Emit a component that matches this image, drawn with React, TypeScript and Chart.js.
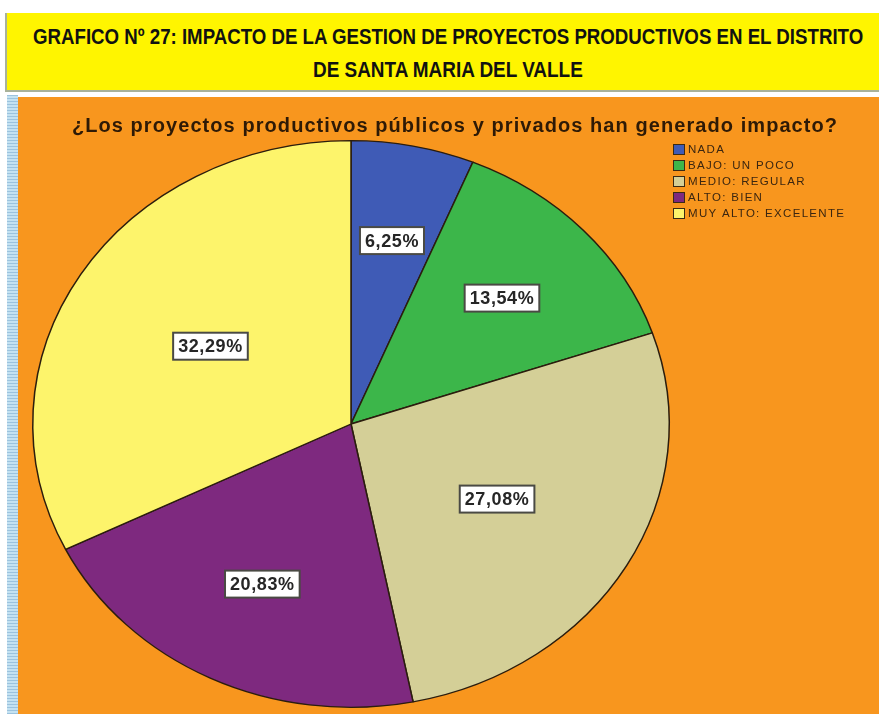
import React, { useEffect, useLayoutEffect, useRef } from "react";
import { Chart, registerables } from "chart.js";

Chart.register(...registerables);

const categories = ["NADA", "BAJO: UN POCO", "MEDIO: REGULAR", "ALTO: BIEN", "MUY ALTO: EXCELENTE"];
const percentages = [6.25, 13.54, 27.08, 20.83, 32.29];
const sliceColors = ["#3F5BB6", "#3CB64A", "#D4CF97", "#7E297F", "#FDF46B"];
const chartTitle = "¿Los proyectos productivos públicos y privados han generado impacto?";
const pageTitleLines = [
  "GRAFICO Nº 27: IMPACTO DE LA GESTION DE PROYECTOS PRODUCTIVOS EN EL DISTRITO",
  "DE SANTA MARIA DEL VALLE",
];

// style / layout constants (not data)
const SQUASH = 284 / 319;
const LABEL_FRACTIONS = [0.66, 0.65, 0.53, 0.63, 0.52];
const FONT = '"Liberation Sans", Arial, sans-serif';

function fmtPct(v: number) {
  return v.toFixed(2).replace(".", ",") + "%";
}

function drawSpaced(ctx: CanvasRenderingContext2D, text: string, x: number, y: number, targetWidth: number) {
  (ctx as any).letterSpacing = "0px";
  const w = ctx.measureText(text).width;
  const extra = (targetWidth - w) / Math.max(text.length - 1, 1);
  (ctx as any).letterSpacing = extra.toFixed(2) + "px";
  ctx.fillText(text, x, y);
  (ctx as any).letterSpacing = "0px";
}

const piePlugin = {
  id: "piePlugin",
  beforeDatasetsDraw(chart: any) {
    const arc = chart.getDatasetMeta(0).data[0];
    const { x, y } = arc;
    const ctx = chart.ctx;
    ctx.save();
    ctx.translate(x, y);
    ctx.scale(1, SQUASH);
    ctx.translate(-x, -y);
  },
  afterDatasetsDraw(chart: any) {
    const ctx: CanvasRenderingContext2D = chart.ctx;
    ctx.restore();
    const meta = chart.getDatasetMeta(0);
    const values: number[] = chart.data.datasets[0].data;
    meta.data.forEach((el: any, i: number) => {
      const p = el.getProps(["x", "y", "startAngle", "endAngle", "outerRadius"], true);
      const mid = (p.startAngle + p.endAngle) / 2;
      const r = LABEL_FRACTIONS[i] * p.outerRadius;
      const lx = p.x + Math.cos(mid) * r;
      const ly = p.y + Math.sin(mid) * r * SQUASH;
      const text = fmtPct(values[i]);
      ctx.save();
      ctx.font = `bold 18px ${FONT}`;
      (ctx as any).letterSpacing = "0.6px";
      const tw = ctx.measureText(text).width;
      const bw = tw + 10;
      const bh = 27;
      ctx.fillStyle = "#ffffff";
      ctx.fillRect(lx - bw / 2, ly - bh / 2, bw, bh);
      ctx.strokeStyle = "#4a4a44";
      ctx.lineWidth = 2;
      ctx.strokeRect(lx - bw / 2, ly - bh / 2, bw, bh);
      ctx.fillStyle = "#262626";
      ctx.textAlign = "center";
      ctx.textBaseline = "middle";
      ctx.fillText(text, lx, ly + 1);
      ctx.restore();
    });
  },
  afterDraw(chart: any) {
    const ctx: CanvasRenderingContext2D = chart.ctx;
    ctx.save();
    // chart title
    ctx.font = `bold 20px ${FONT}`;
    ctx.fillStyle = "#2e1a06";
    ctx.textAlign = "center";
    ctx.textBaseline = "middle";
    drawSpaced(ctx, chartTitle, 437, 29, 765);
    // legend
    const labels: string[] = chart.data.labels;
    const colors: string[] = chart.data.datasets[0].backgroundColor;
    ctx.textAlign = "left";
    labels.forEach((lab, i) => {
      const cy = 52 + i * 16;
      ctx.fillStyle = colors[i];
      ctx.fillRect(655, cy - 5, 11, 10);
      ctx.strokeStyle = "#3a2a14";
      ctx.lineWidth = 1;
      ctx.strokeRect(655.5, cy - 4.5, 11, 10);
      ctx.fillStyle = "#3b2610";
      ctx.font = `11.5px ${FONT}`;
      (ctx as any).letterSpacing = "1.3px";
      ctx.fillText(lab, 670, cy + 1);
    });
    ctx.restore();
  },
};

function FitLine({ text, width, top }: { text: string; width: number; top: number }) {
  const ref = useRef<HTMLSpanElement>(null);
  useLayoutEffect(() => {
    const el = ref.current;
    if (!el) return;
    const w = el.offsetWidth;
    el.style.transform = `scaleX(${width / w})`;
  }, [text, width]);
  return (
    <span
      ref={ref}
      style={{
        position: "absolute",
        left: 448 - width / 2,
        top,
        whiteSpace: "nowrap",
        fontFamily: FONT,
        fontWeight: "bold",
        fontSize: 22,
        lineHeight: "26px",
        color: "#111",
        transformOrigin: "0 50%",
        display: "inline-block",
      }}
    >
      {text}
    </span>
  );
}

export default function App() {
  const canvasRef = useRef<HTMLCanvasElement>(null);

  useEffect(() => {
    const canvas = canvasRef.current;
    if (!canvas) return;
    const chart = new Chart(canvas, {
      type: "pie",
      data: {
        labels: categories,
        datasets: [
          {
            data: percentages,
            backgroundColor: sliceColors,
            borderColor: "#2b1d0e",
            borderWidth: 1.5,
          },
        ],
      },
      options: {
        responsive: false,
        maintainAspectRatio: false,
        animation: false,
        devicePixelRatio: 1,
        layout: { padding: { left: 14, right: 209, top: 8, bottom: 14 } },
        plugins: {
          legend: { display: false },
          tooltip: { enabled: false },
          title: { display: false },
        },
      },
      plugins: [piePlugin],
    });
    return () => chart.destroy();
  }, []);

  return (
    <div style={{ position: "absolute", left: 0, top: 0, width: 879, height: 714, background: "#fff", overflow: "hidden" }}>
      <div
        style={{
          position: "absolute",
          left: 5,
          top: 13,
          width: 872,
          height: 77,
          background: "#FFF500",
          borderLeft: "2px solid #a9b29a",
          borderBottom: "2px solid #a9b29a",
        }}
      />
      <FitLine text={pageTitleLines[0]} width={830} top={24} />
      <FitLine text={pageTitleLines[1]} width={270} top={57} />
      <div
        style={{
          position: "absolute",
          left: 7,
          top: 95,
          width: 11,
          height: 619,
          backgroundColor: "#c4e2f2",
          backgroundImage: "repeating-linear-gradient(0deg, #9cc3de 0px, #9cc3de 1px, transparent 1px, transparent 3px)",
        }}
      />
      <div style={{ position: "absolute", left: 18, top: 97, width: 861, height: 617, background: "#F8961E", overflow: "hidden" }}>
        <canvas ref={canvasRef} width={861} height={660} style={{ display: "block", width: 861, height: 660 }} />
      </div>
    </div>
  );
}
